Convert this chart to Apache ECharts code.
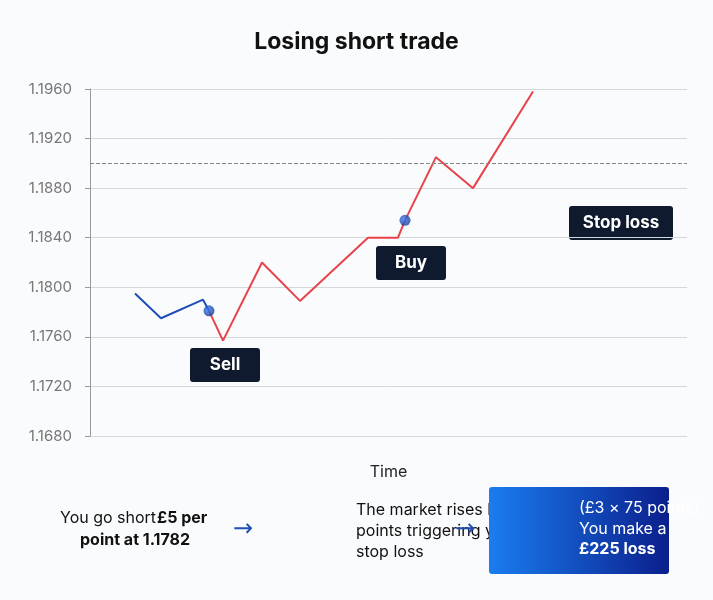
<!DOCTYPE html>
<html><head><meta charset="utf-8">
<script src="https://cdn.jsdelivr.net/npm/echarts@6/dist/echarts.min.js"></script>
<style>html,body{margin:0;padding:0;background:#fafbfd}#c{width:713px;height:600px}</style>
</head><body><div id="c"></div>
<script>
const yTicks = [1.1680,1.1720,1.1760,1.1800,1.1840,1.1880,1.1920,1.1960];
const blueTime = [45,71,113,119];
const blueValues = [1.1795,1.1775,1.1790,1.1781];
const redTime = [119,133,172,210,278,308,315,346,383,443];
const redValues = [1.1781,1.1757,1.1820,1.1789,1.1840,1.1840,1.1854,1.1905,1.1880,1.1958];
const stopLoss = 1.1854;
const sellPoint = [119,1.1781];
const buyPoint = [315,1.1854];

const chart = echarts.init(document.getElementById('c'));
const font = 'Inter';
function box(text, x, y, w){
  return {type:'group', left:x, top:y, children:[
    {type:'rect', shape:{x:0,y:0,width:w,height:34,r:3}, style:{fill:'#0f1a2e'}},
    {type:'text', style:{text:text, x:w/2, y:17, align:'center', verticalAlign:'middle', fill:'#fff', font:'bold 17px Inter'}}
  ]};
}
chart.setOption({
  backgroundColor:'#fafbfd',
  animation:false,
  title:{text:'Losing short trade', left:'center', top:26, textStyle:{fontFamily:font, fontSize:23, fontWeight:'bold', color:'#111'}},
  grid:{left:90, right:26, top:89, bottom:164},
  xAxis:{type:'value', min:0, max:597, name:'Time', nameLocation:'middle', nameGap:28,
    nameTextStyle:{fontFamily:font, fontSize:16, color:'#222'},
    axisLine:{show:false}, axisTick:{show:false}, axisLabel:{show:false}, splitLine:{show:false}},
  yAxis:{type:'value', min:1.1680, max:1.1960, interval:0.004,
    axisLine:{show:true, lineStyle:{color:'#999'}}, axisTick:{show:true, length:5, lineStyle:{color:'#999'}},
    axisLabel:{formatter:v=>v.toFixed(4), fontFamily:font, fontSize:15, color:'#777', margin:18},
    splitLine:{lineStyle:{color:'#d5d7db'}}},
  series:[
    {type:'line', data:blueTime.map((t,i)=>[t,blueValues[i]]), symbol:'none', lineStyle:{color:'#1f4fb5', width:2}},
    {type:'line', data:redTime.map((t,i)=>[t,redValues[i]]), symbol:'none', lineStyle:{color:'#e8424a', width:2},
      markLine:{silent:true, symbol:'none', label:{show:false}, lineStyle:{type:'dashed', color:'#888', width:1},
        data:[{yAxis:stopLoss}]}},
    {type:'scatter', data:[sellPoint,buyPoint], symbolSize:11, z:5,
      itemStyle:{color:{type:'radial',x:0.4,y:0.4,r:0.6,colorStops:[{offset:0,color:'#3b7bf0'},{offset:1,color:'#143f9e'}]}}}
  ],
  graphic:[
    box('Sell',190,348,70),
    box('Buy',376,246,70),
    box('Stop loss',569,206,104),
    {type:'text', left:60, top:510, style:{text:'You go short ', font:'16px Inter', fill:'#111'}},
    {type:'text', left:157, top:510, style:{text:'£5 per', font:'bold 16px Inter', fill:'#111'}},
    {type:'text', left:80, top:532, style:{text:'point at 1.1782', font:'bold 16px Inter', fill:'#111'}},
    {type:'text', left:233, top:518, style:{text:'→', font:'24px DejaVu Sans', fill:'#1f4fb5'}},
    {type:'text', left:356, top:500, style:{text:'The market rises by 75\npoints triggering your\nstop loss', align:'center', font:'16px Inter', lineHeight:21, fill:'#111'}},
    {type:'text', left:455, top:518, style:{text:'→', font:'24px DejaVu Sans', fill:'#1f4fb5'}},
    {type:'rect', left:489, top:487, shape:{width:180,height:87,r:3},
      style:{fill:{type:'linear',x:0,y:0,x2:1,y2:0,colorStops:[{offset:0,color:'#1a7df0'},{offset:1,color:'#0b1f8c'}]}}},
    {type:'text', left:579, top:498, style:{text:'(£3 × 75 points)\nYou make a', align:'center', font:'16px Inter', lineHeight:21, fill:'#fff'}},
    {type:'text', left:579, top:541, style:{text:'£225 loss', align:'center', font:'bold 16px Inter', fill:'#fff'}}
  ]
});
</script></body></html>
